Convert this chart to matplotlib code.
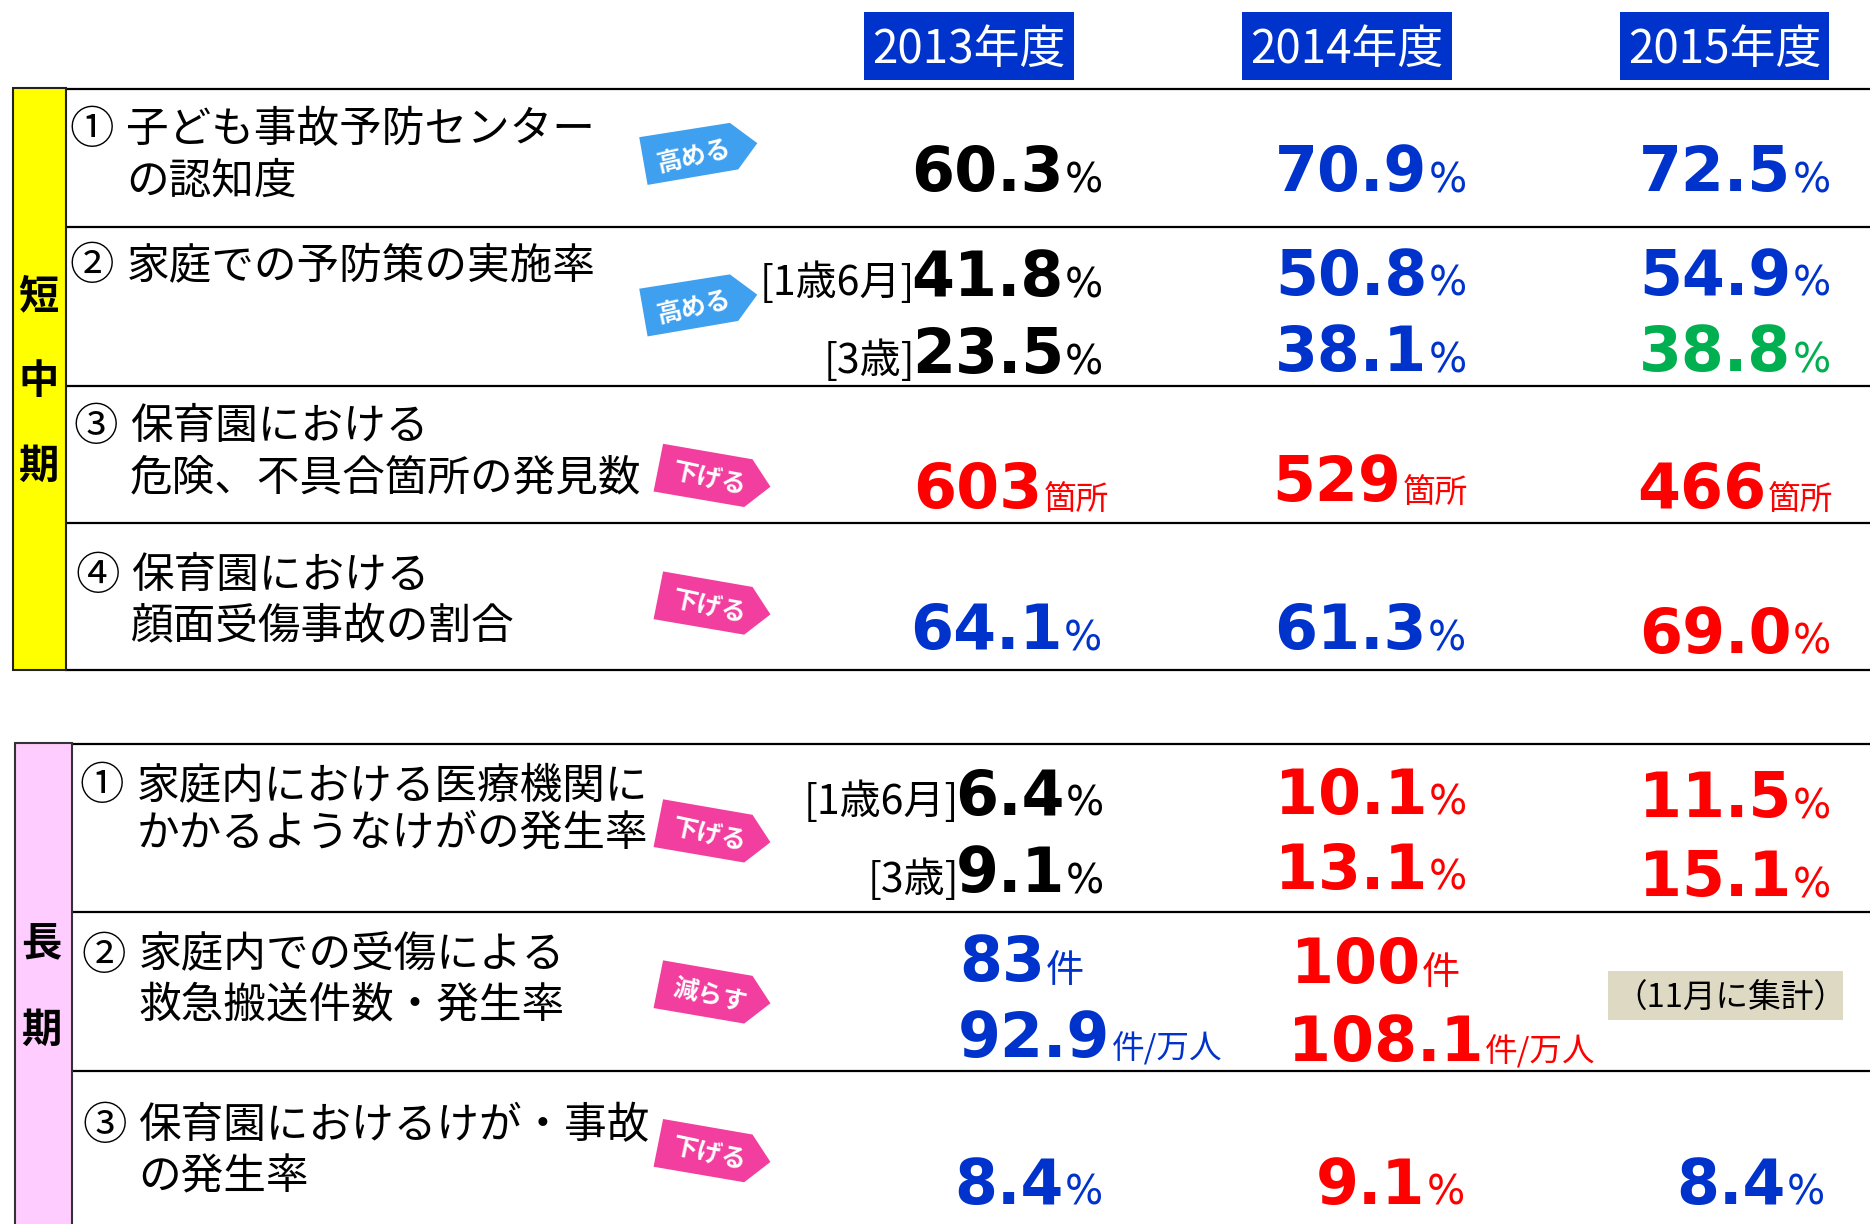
import matplotlib
matplotlib.use('Agg')
import matplotlib.pyplot as plt
from matplotlib.patches import Polygon, Rectangle

plt.rcParams['font.family'] = ['Noto Sans CJK JP', 'DejaVu Sans']

# data
years = ['2013年度', '2014年度', '2015年度']
short_labels = [
    ['①', '子ども事故予防センター', 'の認知度'],
    ['②', '家庭での予防策の実施率', ''],
    ['③', '保育園における', '危険、不具合箇所の発見数'],
    ['④', '保育園における', '顔面受傷事故の割合'],
]
long_labels = [
    ['①', '家庭内における医療機関に', 'かかるようなけがの発生率'],
    ['②', '家庭内での受傷による', '救急搬送件数・発生率'],
    ['③', '保育園におけるけが・事故', 'の発生率'],
]
awareness = ['60.3', '70.9', '72.5']
measures_18m = ['41.8', '50.8', '54.9']
measures_3y = ['23.5', '38.1', '38.8']
hazards = ['603', '529', '466']
face_injury = ['64.1', '61.3', '69.0']
home_injury_18m = ['6.4', '10.1', '11.5']
home_injury_3y = ['9.1', '13.1', '15.1']
ambulance = ['83', '100']
ambulance_rate = ['92.9', '108.1']
nursery_rate = ['8.4', '9.1', '8.4']

BLUE = '#0033CC'
RED = '#FF0000'
GREEN = '#00B050'
BLACK = '#000000'

# all positions are in the px of the 1568 wide view
fig = plt.figure(figsize=(18.7, 12.24), dpi=100)
ax = fig.add_axes([0, 0, 1, 1])
ax.set_xlim(0, 1568)
ax.set_ylim(1026, 0)
ax.axis('off')

# side bars
ax.add_patch(Rectangle((10.5, 74), 44.5, 488, fc='#FFFF00', ec='#222222', lw=1.5, zorder=2))
ax.add_patch(Rectangle((12.5, 623), 47.5, 420, fc='#FFCCFF', ec='#333333', lw=1.5, zorder=2))
for ch, y in zip('短中期', [249, 320, 391]):
    ax.text(32, y, ch, fontsize=29, fontweight='bold', ha='center', va='center', zorder=3)
for ch, y in zip('長期', [792, 864]):
    ax.text(35, y, ch, fontsize=29, fontweight='bold', ha='center', va='center', zorder=3)

# rules
for y in [74.5, 190.5, 323.5, 438.5, 561.5]:
    ax.plot([55, 1568], [y, y], color='black', lw=1.6, zorder=1)
for y in [623.5, 764.5, 897.5]:
    ax.plot([60, 1568], [y, y], color='black', lw=1.6, zorder=1)

# headers
for year, x in zip(years, [724.5, 1041.5, 1358]):
    ax.add_patch(Rectangle((x, 10), 176, 57, fc='#0033CC', ec='none'))
    ax.text(x + 88, 42, year, color='white', fontsize=33, ha='center', va='center')


def row_label(parts, xnum, xtext, y1, y2):
    ax.text(xnum, y1, parts[0], fontsize=32, ha='left', va='center')
    ax.text(xtext, y1, parts[1], fontsize=30.7, ha='left', va='center')
    if parts[2]:
        ax.text(xtext, y2, parts[2], fontsize=30.7, ha='left', va='center')


row_label(short_labels[0], 58, 106, 109, 152)
row_label(short_labels[1], 58, 106, 223, 0)
row_label(short_labels[2], 62, 109, 358, 401)
row_label(short_labels[3], 63, 110, 483, 526)
row_label(long_labels[0], 67, 115, 659, 699)
row_label(long_labels[1], 68, 116, 801, 843)
row_label(long_labels[2], 69, 116, 944, 987)


def up_tag(x, y, word):
    pts = [(0, 0), (76, -12), (99, 5), (83, 27), (7, 40)]
    ax.add_patch(Polygon([(x + a, y + b) for a, b in pts], fc='#3FA0EF', ec='none'))
    ax.text(x + 46, y + 16, word, color='white', fontsize=18, fontweight='bold',
            rotation=13, rotation_mode='anchor', ha='center', va='center')


def down_tag(x, y, word):
    pts = [(0, 0), (8, -40), (83, -27), (98, -4), (76, 13)]
    ax.add_patch(Polygon([(x + a, y + b) for a, b in pts], fc='#F23E9E', ec='none'))
    ax.text(x + 47, y - 10, word, color='white', fontsize=18, fontweight='bold',
            rotation=-12, rotation_mode='anchor', ha='center', va='center')


up_tag(536, 115, '高める')
up_tag(536, 242, '高める')
down_tag(548, 412, '下げる')
down_tag(548, 519, '下げる')
down_tag(548, 710, '下げる')
down_tag(548, 845, '減らす')
down_tag(548, 978, '下げる')


def val(text, unit, right, base, color, usize=30):
    ax.text(right, base, text, color=color, fontsize=44.5, fontweight='bold',
            family='DejaVu Sans', ha='right', va='baseline')
    fam = 'DejaVu Sans' if unit == '%' else 'Noto Sans CJK JP'
    ax.text(right + 1, base + 1, unit, color=color, fontsize=usize, family=fam,
            ha='left', va='baseline')


def col_row(values, units, rights, bases, colors, usize=29):
    for v, r, b, c in zip(values, rights, bases, colors):
        val(v, units, r, b, c, usize)


C3 = [892, 1197, 1502]
col_row(awareness, '%', C3, [160, 160, 160], [BLACK, BLUE, BLUE])
col_row(measures_18m, '%', C3, [248, 247, 247], [BLACK, BLUE, BLUE])
col_row(measures_3y, '%', C3, [313, 311, 311], [BLACK, BLUE, GREEN])
col_row(hazards, '箇所', [874, 1175, 1481], [426, 420, 426], [RED, RED, RED], 23.5)
col_row(face_injury, '%', [891, 1196, 1502], [544, 544, 547], [BLUE, BLUE, RED])
col_row(home_injury_18m, '%', [893, 1197, 1502], [683, 682, 685], [BLACK, RED, RED])
col_row(home_injury_3y, '%', [893, 1197, 1502], [748, 745, 751], [BLACK, RED, RED])
col_row(ambulance, '件', [876, 1191], [822, 824], [BLUE, RED], 27.5)
col_row(ambulance_rate, '件/万人', [931, 1244], [886, 889], [BLUE, RED], 23.5)
col_row(nursery_rate, '%', [892, 1195, 1497], [1009, 1009, 1009], [BLUE, RED, BLUE])

# age brackets
ax.text(767, 237, '[1歳6月]', fontsize=29.5, ha='right', va='center')
ax.text(767, 302, '[3歳]', fontsize=29.5, ha='right', va='center')
ax.text(804, 672, '[1歳6月]', fontsize=29.5, ha='right', va='center')
ax.text(804, 737, '[3歳]', fontsize=29.5, ha='right', va='center')

# not yet counted box
ax.add_patch(Rectangle((1348, 814), 197, 41, fc='#DDD9C3', ec='none'))
ax.text(1451, 837, '（11月に集計）', fontsize=23.5, ha='center', va='center')

fig.savefig('out.png', dpi=100)
